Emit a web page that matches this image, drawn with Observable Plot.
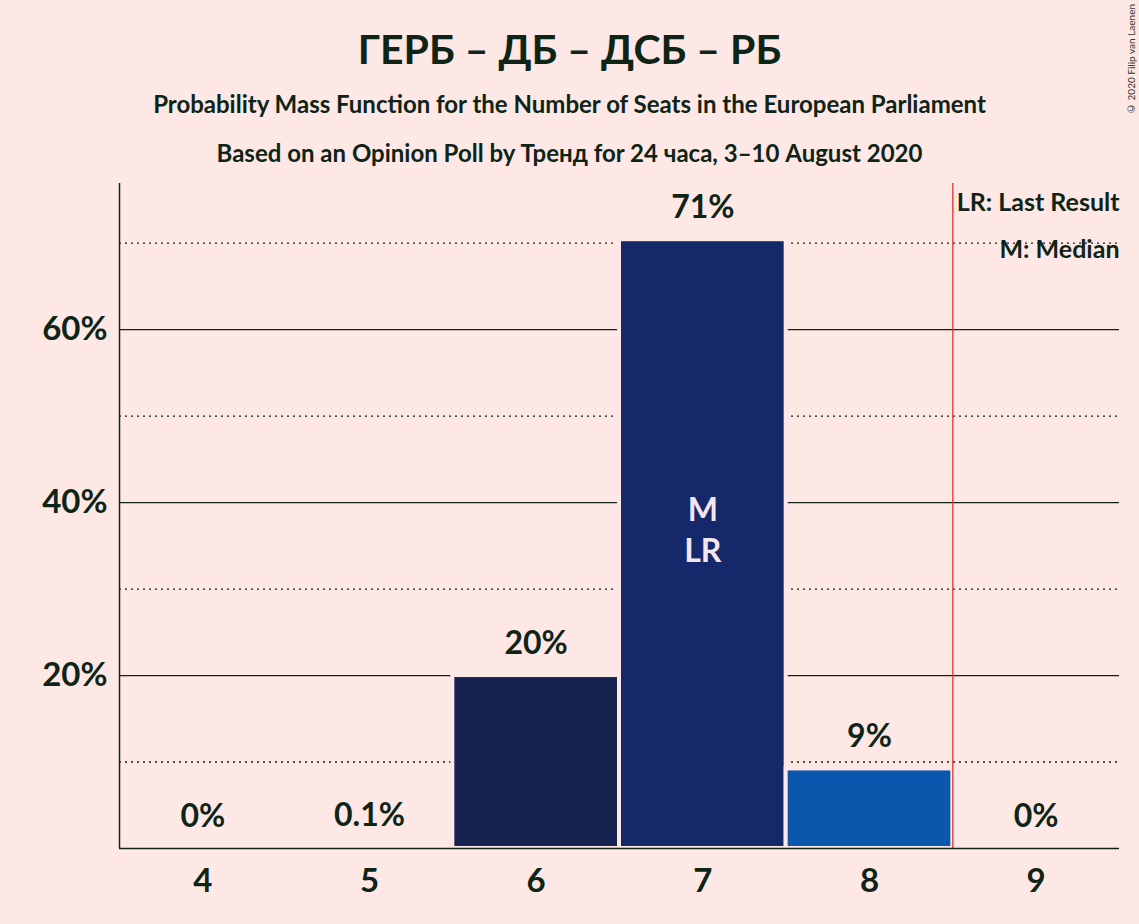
<!DOCTYPE html>
<html>
<head>
<meta charset="utf-8">
<script src="https://cdn.jsdelivr.net/npm/d3@7"></script>
<script src="https://cdn.jsdelivr.net/npm/@observablehq/plot@0.6"></script>
<style>
  body { margin: 0; background: #fde8e6; font-family: Lato, sans-serif; color: #0d2417; }
  #wrap { position: relative; width: 1139px; height: 924px; }
  .t { position: absolute; left: 0; width: 1139px; text-align: center; font-weight: bold; }
  #copy { position: absolute; right: 2px; top: 4px; font-size: 10px; writing-mode: vertical-rl; transform: rotate(180deg); color: #333; }
</style>
</head>
<body>
<div id="wrap">
  <div class="t" style="top:24px;font-size:41px;">ГЕРБ – ДБ – ДСБ – РБ</div>
  <div class="t" style="top:89px;font-size:24px;">Probability Mass Function for the Number of Seats in the European Parliament</div>
  <div class="t" style="top:138px;font-size:24px;">Based on an Opinion Poll by Тренд for 24 часа, 3–10 August 2020</div>
  <div id="copy">© 2020 Filip van Laenen</div>
  <div id="chart"></div>
</div>
<script>
const seats = [4, 5, 6, 7, 8, 9];
const probs = [0, 0.1, 20, 70.4, 9.2, 0];
const labels = ["0%", "0.1%", "20%", "71%", "9%", "0%"];
const colors = ["#162350", "#162350", "#162350", "#152869", "#0a58ad", "#0a58ad"];
const lastResult = 8.5;
const solidGrid = [20, 40, 60];
const dottedGrid = [10, 30, 50, 70];
const yTicks = [20, 40, 60];

const bg = "#fde8e6";
const ink = "#0d2417";
const data = seats.map((s, i) => ({seat: s, p: probs[i], label: labels[i], color: colors[i]}));

const chart = Plot.plot({
  width: 1139,
  height: 924,
  marginLeft: 119,
  marginRight: 20,
  marginTop: 183,
  marginBottom: 76,
  style: {background: "transparent", fontFamily: "Lato, sans-serif", color: ink},
  x: {domain: [3.5, 9.5], ticks: seats, tickFormat: d => d, tickSize: 0, tickPadding: 20, label: null},
  y: {domain: [0, 76.9], ticks: yTicks, tickFormat: d => d + "%", tickSize: 0, tickPadding: 12, label: null},
  marks: [
    Plot.ruleY(dottedGrid, {stroke: ink, strokeDasharray: "2,4", strokeWidth: 1.3}),
    Plot.ruleY(solidGrid, {stroke: ink, strokeWidth: 1.3}),
    Plot.rectY(data, {x1: d => d.seat - 0.5, x2: d => d.seat + 0.5, y: "p", fill: "color", stroke: bg, strokeWidth: 4}),
    Plot.ruleX([lastResult], {stroke: "#e0302a", strokeWidth: 1.3}),
    Plot.ruleY([0], {stroke: ink, strokeWidth: 1.5}),
    Plot.ruleX([3.5], {stroke: ink, strokeWidth: 1.5}),
    Plot.text(data, {x: "seat", y: "p", text: "label", dy: -32, fontSize: 32, fontWeight: "bold", fill: ink}),
    Plot.text([{seat: 7, t: "M", y: 39}, {seat: 7, t: "LR", y: 34.3}], {x: "seat", y: "y", text: "t", fontSize: 32, fontWeight: "bold", fill: "#f4e6ee"}),
    Plot.text([{t: "LR: Last Result", y: 74.7}, {t: "M: Median", y: 69.2}], {x: 9.5, y: "y", text: "t", textAnchor: "end", fontSize: 25, fontWeight: "bold", fill: ink})
  ]
});
d3.select(chart).selectAll("g[aria-label$='axis'] text, g[aria-label*='tick label'] text").attr("font-size", 33).attr("font-weight", "bold");
d3.select(chart).selectAll("g[aria-label='y-axis tick label'], g[aria-label='x-axis tick label']").attr("font-size", 33).attr("font-weight", "bold").attr("fill", ink);
d3.select("#chart").append(() => chart);
</script>
</body>
</html>
